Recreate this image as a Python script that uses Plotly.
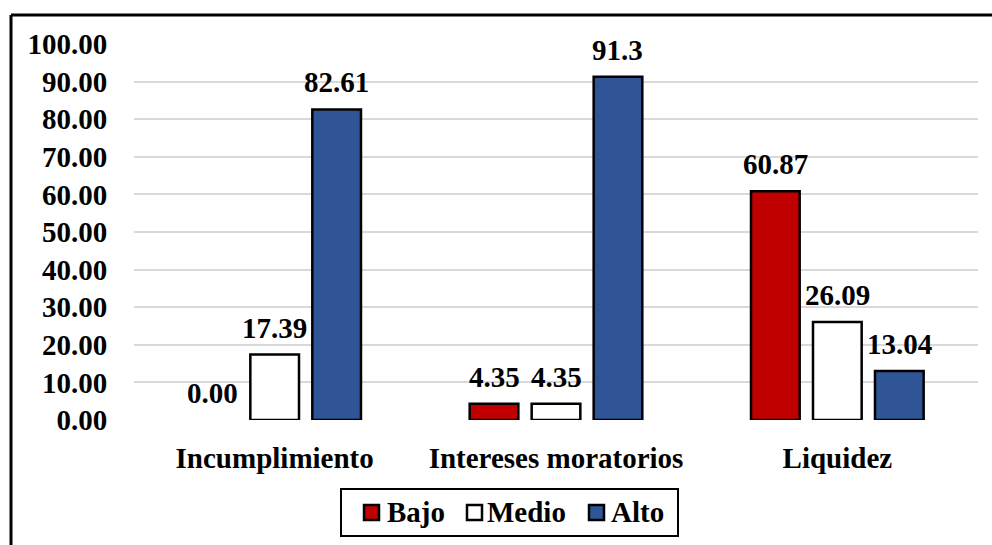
import plotly.graph_objects as go

# Data
categories = ["Incumplimiento", "Intereses moratorios", "Liquidez"]
series_names = ["Bajo", "Medio", "Alto"]
bajo = [0.00, 4.35, 60.87]
medio = [17.39, 4.35, 26.09]
alto = [82.61, 91.3, 13.04]
bajo_labels = ["0.00", "4.35", "60.87"]
medio_labels = ["17.39", "4.35", "26.09"]
alto_labels = ["82.61", "91.3", "13.04"]
series_colors = ["#C00000", "#FFFFFF", "#2F5597"]
y_ticks = [0, 10, 20, 30, 40, 50, 60, 70, 80, 90, 100]

series_values = [bajo, medio, alto]
series_labels = [bajo_labels, medio_labels, alto_labels]

# Page geometry (pixels)
W, H = 992, 545
ML, MR, MT, MB = 134, 14, 44, 125
PW, PH = W - ML - MR, H - MT - MB
BARGAP, BARGROUPGAP = 0.339, 0.215


def serif_font():
    return dict(family="Liberation Serif", size=29, color="black",
                weight="bold")


def fx(px):
    return (px - ML) / PW


def fy(py):
    return (H - MB - py) / PH


fig = go.Figure()
for name, vals, col in zip(series_names, series_values, series_colors):
    fig.add_trace(go.Bar(
        x=categories, y=vals, name=name,
        marker=dict(color=col,
                    line=dict(color="black",
                              width=[2.5 if v > 0 else 0 for v in vals])),
        showlegend=False, hoverinfo="x+y+name",
    ))

# Value labels above each bar
slot_px = PW / len(categories) * (1 - BARGAP) / len(series_names)
for j, (vals, labs) in enumerate(zip(series_values, series_labels)):
    for cat, v, lab in zip(categories, vals, labs):
        fig.add_annotation(
            x=cat, y=v, text=lab, showarrow=False,
            xanchor="center", yanchor="bottom",
            xshift=(j - 1) * slot_px, yshift=9, font=serif_font(),
        )

shapes = []
# Outer frame (top and left edges)
shapes.append(dict(type="line", xref="paper", yref="paper",
                   x0=fx(11), x1=fx(W + 5), y0=fy(15), y1=fy(15),
                   line=dict(color="black", width=3)))
shapes.append(dict(type="line", xref="paper", yref="paper",
                   x0=fx(11), x1=fx(11), y0=fy(15), y1=fy(H + 5),
                   line=dict(color="black", width=3)))

# Legend box with swatches
shapes.append(dict(type="rect", xref="paper", yref="paper",
                   x0=fx(341), x1=fx(678), y0=fy(489), y1=fy(536),
                   line=dict(color="black", width=2), fillcolor="white"))
legend_swatch_x = [363, 466, 588]
legend_text_x = [385, 485, 609]
for name, col, sx, tx in zip(series_names, series_colors,
                             legend_swatch_x, legend_text_x):
    shapes.append(dict(type="rect", xref="paper", yref="paper",
                       x0=fx(sx + 1), x1=fx(sx + 16), y0=fy(505), y1=fy(520),
                       line=dict(color="black", width=2.5), fillcolor=col))
    fig.add_annotation(xref="paper", yref="paper", x=fx(tx), y=fy(512),
                       text=name, showarrow=False, xanchor="left",
                       yanchor="middle", font=serif_font())

fig.update_layout(
    width=W, height=H,
    margin=dict(l=ML, r=MR, t=MT, b=MB, autoexpand=False),
    paper_bgcolor="white", plot_bgcolor="white",
    barmode="group", bargap=BARGAP, bargroupgap=BARGROUPGAP,
    shapes=shapes,
)
fig.update_xaxes(
    type="category", showgrid=False, zeroline=False, showline=False,
    ticks="outside", ticklen=12, tickcolor="rgba(0,0,0,0)",
    tickfont=serif_font(),
)
fig.update_yaxes(
    range=[0, 100], tickvals=y_ticks, tickformat=".2f",
    showgrid=True, gridcolor="#D9D9D9", gridwidth=2,
    zeroline=False, showline=False,
    ticks="outside", ticklen=20, tickcolor="rgba(0,0,0,0)",
    tickfont=serif_font(),
)

fig.write_html("out.html")
